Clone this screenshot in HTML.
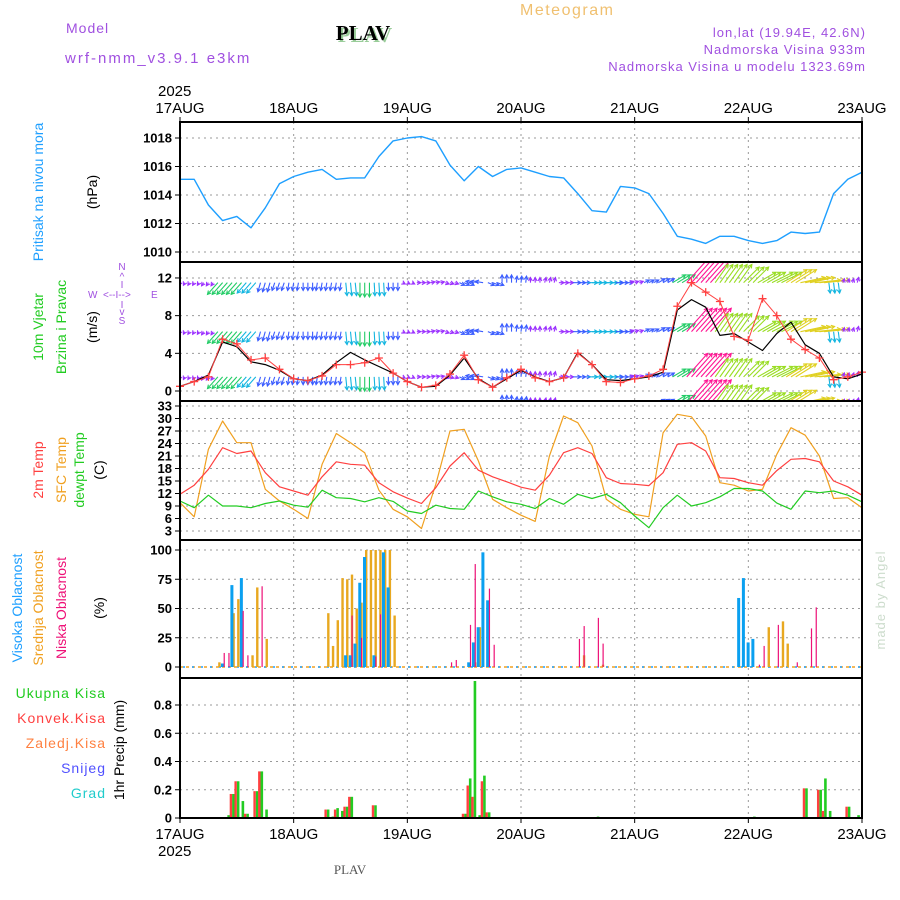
<!DOCTYPE html>
<html><head><meta charset="utf-8"><title>Meteogram PLAV</title>
<style>
html,body{margin:0;padding:0;background:#fff;}
svg{display:block;font-family:"Liberation Sans",sans-serif;}
.tk{font-size:13px;font-weight:bold;fill:#000;}
.ax{font-size:15px;fill:#000;}
</style></head>
<body>
<svg id="chart" width="900" height="900" viewBox="0 0 900 900" xmlns="http://www.w3.org/2000/svg">
<defs>
<clipPath id="clipW"><rect x="180" y="262" width="682" height="139"/></clipPath>
</defs>
<!-- header -->
<text x="520" y="15" font-size="16" fill="#f0c070" letter-spacing="1.5">Meteogram</text>
<text x="66" y="33" font-size="14" fill="#a050e0" letter-spacing="1">Model</text>
<text x="65" y="63" font-size="15" fill="#a050e0" letter-spacing="2">wrf-nmm_v3.9.1 e3km</text>
<text x="365" y="42" font-size="21" font-weight="bold" font-family="Liberation Serif,serif" fill="#9c9" text-anchor="middle">PLAV</text>
<text x="363" y="40" font-size="21" font-weight="bold" font-family="Liberation Serif,serif" fill="#000" text-anchor="middle">PLAV</text>
<text x="866" y="37" font-size="13" fill="#a050e0" text-anchor="end" letter-spacing="1">lon,lat (19.94E, 42.6N)</text>
<text x="866" y="54" font-size="13" fill="#a050e0" text-anchor="end" letter-spacing="1">Nadmorska Visina 933m</text>
<text x="866" y="71" font-size="13" fill="#a050e0" text-anchor="end" letter-spacing="1">Nadmorska Visina u modelu 1323.69m</text>

<!-- left labels -->
<text transform="translate(43,192) rotate(-90)" font-size="14" fill="#1e9fff" text-anchor="middle">Pritisak na nivou mora</text>
<text transform="translate(97,192) rotate(-90)" font-size="14" fill="#000" text-anchor="middle">(hPa)</text>
<text transform="translate(43,327) rotate(-90)" font-size="14" fill="#22cc22" text-anchor="middle">10m Vjetar</text>
<text transform="translate(66,327) rotate(-90)" font-size="14" fill="#22cc22" text-anchor="middle">Brzina i Pravac</text>
<text transform="translate(97,327) rotate(-90)" font-size="14" fill="#000" text-anchor="middle">(m/s)</text>
<g fill="#a050e0" font-size="10">
<text x="122" y="270" text-anchor="middle">N</text>
<text x="122" y="280" text-anchor="middle">^</text>
<text x="122" y="288" text-anchor="middle">I</text>
<text x="88" y="298">W</text>
<text x="103" y="298">&lt;--I--&gt;</text>
<text x="151" y="298">E</text>
<text x="122" y="308" text-anchor="middle">I</text>
<text x="122" y="315" text-anchor="middle">v</text>
<text x="122" y="324" text-anchor="middle">S</text>
</g>
<text transform="translate(43,470) rotate(-90)" font-size="14" fill="#ff4040" text-anchor="middle">2m Temp</text>
<text transform="translate(66,470) rotate(-90)" font-size="14" fill="#f0a020" text-anchor="middle">SFC Temp</text>
<text transform="translate(84,470) rotate(-90)" font-size="14" fill="#22cc22" text-anchor="middle">dewpt Temp</text>
<text transform="translate(104,470) rotate(-90)" font-size="14" fill="#000" text-anchor="middle">(C)</text>
<text transform="translate(22,608) rotate(-90)" font-size="14" fill="#1e9fff" text-anchor="middle">Visoka Oblacnost</text>
<text transform="translate(43,608) rotate(-90)" font-size="14" fill="#f0a020" text-anchor="middle">Srednja Oblacnost</text>
<text transform="translate(66,608) rotate(-90)" font-size="14" fill="#ee1177" text-anchor="middle">Niska Oblacnost</text>
<text transform="translate(104,608) rotate(-90)" font-size="14" fill="#000" text-anchor="middle">(%)</text>
<g font-size="14" text-anchor="end" letter-spacing="1">
<text x="106" y="698" fill="#22cc22">Ukupna Kisa</text>
<text x="106" y="723" fill="#ff4040">Konvek.Kisa</text>
<text x="106" y="748" fill="#ff8040">Zaledj.Kisa</text>
<text x="106" y="773" fill="#5050ff">Snijeg</text>
<text x="106" y="798" fill="#20cccc">Grad</text>
</g>
<text transform="translate(124,750) rotate(-90)" font-size="14" fill="#000" text-anchor="middle">1hr Precip (mm)</text>
<text transform="translate(885,600) rotate(-90)" font-size="13" fill="#ccdccc" text-anchor="middle" letter-spacing="1">made by Angel</text>
<text x="350" y="874" font-size="13" font-family="Liberation Serif,serif" fill="#555" text-anchor="middle">PLAV</text>

<g id="grid"></g>
<g id="marks"></g>
<g id="frames"></g>
</svg>
<script>
const NS='http://www.w3.org/2000/svg';
// ---- data (3-hourly from 17AUG 00z) ----
const dayLabels=['17AUG','18AUG','19AUG','20AUG','21AUG','22AUG','23AUG'];
const pressure=[1015.1,1015.1,1013.3,1012.2,1012.5,1011.7,1013.1,1014.8,1015.3,1015.6,1015.8,1015.1,1015.2,1015.2,1016.7,1017.8,1018.0,1018.1,1017.8,1016.1,1015.0,1016.0,1015.3,1015.8,1015.9,1015.6,1015.3,1015.2,1014.1,1012.9,1012.8,1014.6,1014.5,1014.1,1012.7,1011.1,1010.9,1010.6,1011.1,1011.1,1010.8,1010.6,1010.8,1011.4,1011.3,1011.4,1014.1,1015.1,1015.6];
const windSpeed=[0.5,1.0,1.7,5.2,4.7,3.1,2.8,2.2,1.3,1.1,1.7,3.0,4.1,3.3,2.6,1.9,1.0,0.4,0.5,1.7,3.5,1.3,0.4,1.3,2.2,1.5,1.0,1.4,4.1,2.8,1.2,1.1,1.3,1.5,2.0,8.6,9.7,8.9,5.9,6.1,5.2,4.3,6.1,7.3,4.9,4.0,1.5,1.3,1.8];
const windGustLine=[0.5,1.0,1.5,5.5,5.0,3.3,3.5,2.3,1.3,1.1,1.6,2.8,2.8,3.0,3.5,1.9,1.0,0.4,0.6,1.8,3.8,1.2,0.4,1.4,2.3,1.4,1.0,1.4,4.0,2.8,1.0,0.9,1.3,1.6,2.3,9.0,11.5,10.5,9.5,5.8,5.4,9.8,8.0,5.5,4.4,3.5,1.2,1.5,2.0];
const windU=[-0.5,-0.6,-0.8,-4,-4,-3.5,-1,-1,-0.5,0,-0.5,-0.5,0.5,0,0.3,0,1,1.5,1.5,1.5,2,-3,2.5,0,0.3,0,0.5,2,3,4,4.5,3,1.5,2,2.5,5,8,8,5,5,6,7,8,8,9.5,10,0.5,0.5,0.5];
const windV=[-1,-1,-1.2,-4.5,-4.5,-4,-3.5,-3,-3,-3,-3,-3,-5,-5.5,-5,-3,-0.5,0,0.3,-0.5,-1,0.5,-1,3,2.5,2,2,0,0,0,0,0,0.5,1,1.5,3,9,9,7,7,6,4,4,5,2,1,-4,1.5,2];
const rowLevels=[11.5,6.3,1.5,-1.3];
const temp2m=[11.8,14.0,17.8,23.0,21.6,22.2,17.0,13.6,12.6,11.6,16.0,19.6,19.0,18.8,14.6,12.4,10.9,9.6,13.4,18.6,21.8,17.6,16.0,14.8,13.5,12.8,16.4,21.8,23.0,21.6,15.8,14.4,14.2,13.9,17.0,23.8,24.2,22.2,15.8,15.6,14.6,14.0,17.5,20.2,20.4,19.6,15.0,13.6,11.6];
const tempSfc=[9.8,6.4,22.6,29.4,24.2,24.2,13.0,10.2,8.2,6.0,19.0,26.4,24.2,21.8,12.8,8.2,6.4,3.6,14.2,27.0,27.4,19.8,10.6,8.6,6.8,5.3,21.0,30.6,29.0,23.4,10.6,8.2,7.0,6.4,26.6,31.0,30.4,25.8,14.6,14.0,12.6,13.0,21.4,27.8,26.0,21.0,10.8,11.0,8.6];
const dewpt=[10.2,8.6,11.6,9.0,9.0,8.6,9.6,10.2,9.2,8.7,12.8,11.0,10.8,10.0,11.0,10.1,7.8,7.2,9.2,8.4,8.2,12.6,11.2,10.0,9.4,8.4,10.8,9.4,11.8,10.8,11.8,9.8,6.6,3.8,8.6,11.6,9.0,9.8,11.2,13.2,13.2,12.6,9.7,8.2,12.6,12.2,12.6,11.6,10.0];
// cloud cover (hour, %)
const highHours=[9,11,13,35,36,37,38,39,41,43,44,61,62,63,64,65,118,119,120,121];
const highVals=[3,70,76,10,10,20,72,94,10,98,68,4,21,34,98,57,59,76,21,24];
const midHours=[8,11,12,15,16,18,31,32,33,34,35,36,37,38,39,40,41,42,43,44,45,62,63,85,89,124,127,128];
const midVals=[4,46,58,10,68,24,46,18,40,76,75,79,50,55,100,100,100,100,100,100,44,4,34,10,2,34,39,20];
const lowHours=[9,10,13,14,17,36,38,41,42,57,58,61,62,65,66,84,85,88,89,122,123,126,130,133,134];
const lowVals=[12,12,48,10,69,44,25,9,45,4,6,36,88,67,19,24,35,42,20,2,18,36,4,33,51];
// precipitation (hour, mm)
const precipHours=[10,11,12,13,14,16,17,18,31,32,33,34,35,36,41,60,61,62,63,64,65,88,121,132,135,136,137,141,143];
const totalPrecip=[0.02,0.17,0.26,0.12,0.03,0.19,0.33,0.06,0.06,0.01,0.07,0.05,0.08,0.15,0.09,0.03,0.28,0.97,0.02,0.30,0.04,0.01,0.01,0.21,0.20,0.28,0.05,0.08,0.02];
const convPrecip=[0,0.17,0.26,0,0.03,0.19,0.33,0,0.06,0,0.06,0,0.08,0.15,0.09,0.03,0.23,0.15,0,0.26,0.04,0,0,0.21,0.20,0.05,0,0.08,0];
const pressTicks=[1010,1012,1014,1016,1018];
const windTicks=[0,4,8,12];
const tempTicks=[3,6,9,12,15,18,21,24,27,30,33];
const cloudTicks=[0,25,50,75,100];
const precipTicks=[0,0.2,0.4,0.6,0.8];

// ---- scales ----
const X0=180,X1=862;
const xH=h=>X0+h*(X1-X0)/144;
const yP=p=>252-(p-1010)*14.25;
const yW=s=>391-s*9.42;
const yT=t=>531-(t-3)*4.1667;
const yC=c=>667-c*1.17;
const yR=v=>818-v*141.25;
const panels=[[122,262],[262,401],[401,540],[540,678],[678,818]];

const grid=document.getElementById('grid');
const marks=document.getElementById('marks');
const frames=document.getElementById('frames');
function mk(tag,attrs,parent){const e=document.createElementNS(NS,tag);for(const k in attrs)e.setAttribute(k,attrs[k]);parent.appendChild(e);return e;}

dayLabels.forEach((d,i)=>{
  const x=xH(i*24);
  const g=mk('line',{x1:x,x2:x,y1:122,y2:818,stroke:'#999','stroke-dasharray':'2,4','stroke-width':1},grid);
  
  
  const t=mk('text',{x:x,y:113,class:'ax','text-anchor':'middle'},grid);t.textContent=d;
  
  
  const b=mk('text',{x:x,y:839,class:'ax','text-anchor':'middle'},grid);b.textContent=d;
  
  
  mk('line',{x1:x,x2:x,y1:117,y2:122,stroke:'#000'},grid);
  mk('line',{x1:x,x2:x,y1:818,y2:823,stroke:'#000'},grid);
});
[[158,96],[158,856]].forEach(p=>{const t=mk('text',{x:p[0],y:p[1],class:'ax'},grid);t.textContent='2025';
  
  });

function yTicks(ticks,fy,fmt,name){
  ticks.forEach(v=>{
    const y=fy(v);
    mk('line',{x1:X0,x2:X1,y1:y,y2:y,stroke:'#999','stroke-dasharray':'2,4'},grid);
    mk('line',{x1:X0-5,x2:X0,y1:y,y2:y,stroke:'#000'},grid);
    const t=mk('text',{x:X0-8,y:y+4.5,class:'tk','text-anchor':'end'},grid);t.textContent=fmt(v);
    
    
  });
}
yTicks(pressTicks,yP,v=>v,'pressure-tick');
yTicks(windTicks,yW,v=>v,'wind-tick');
yTicks(tempTicks,yT,v=>v,'temp-tick');
yTicks(cloudTicks,yC,v=>v,'cloud-tick');
yTicks(precipTicks,yR,v=>v===0?'0':v.toFixed(1),'precip-tick');

function line(arr,fy,color,name,w){
  const pts=arr.map((v,i)=>xH(i*3).toFixed(1)+','+fy(v).toFixed(1)).join(' ');
  const l=mk('polyline',{points:pts,fill:'none',stroke:color,'stroke-width':w||1.3,'stroke-linejoin':'round'},marks);
  
  
  return l;
}
line(pressure,yP,'#1e9fff','pressure-line',1.4);

// wind arrows (each 3-hourly value drawn as a small fan of arrows across its 3h slot)
const wg=mk('g',{'clip-path':'url(#clipW)'},marks);


function windColor(s){
  if(s<2.2)return '#9b30ff';
  if(s<4)return '#3a5cff';
  if(s<5.5)return '#12b5e0';
  if(s<7)return '#22cc66';
  if(s<9)return '#99dd22';
  if(s<10.5)return '#e0d020';
  if(s<11.5)return '#f0a030';
  return '#ff1493';
}
rowLevels.forEach(lv=>{
  const by=yW(lv);
  windU.forEach((u,i)=>{
    const v=windV[i];const s=Math.hypot(u,v);
    const c=windColor(s);
    [-1,0,1].forEach(o=>{
      const x=xH(i*3+o);
      if(x<X0-1||x>X1+1)return;
      const ex=x+u*2.6, ey=by-v*2.6;
      const a=mk('line',{x1:x,y1:by,x2:ex,y2:ey,stroke:c,'stroke-width':1.1},wg);
      
      
      if(s>0.1){
        const ang=Math.atan2(ey-by,ex-x);const hl=4;
        const p1=[ex-hl*Math.cos(ang-0.5),ey-hl*Math.sin(ang-0.5)];
        const p2=[ex-hl*Math.cos(ang+0.5),ey-hl*Math.sin(ang+0.5)];
        mk('polyline',{points:p1.join(',')+' '+ex+','+ey+' '+p2.join(','),fill:'none',stroke:c,'stroke-width':1.1},wg);
      }
    });
  });
});
line(windSpeed,yW,'#000','wind-speed-line',1.2);
line(windGustLine,yW,'#ff4040','wind-10m-line',1);
windGustLine.forEach((v,i)=>{
  const x=xH(i*3),y=yW(v);
  const p=mk('path',{d:`M${x-4},${y}H${x+4}M${x},${y-4}V${y+4}`,stroke:'#ff4040','stroke-width':1.3},marks);
  
  
});

line(tempSfc,yT,'#f0a020','sfc-temp-line',1.2);
line(temp2m,yT,'#ff4040','temp-2m-line',1.2);
line(dewpt,yT,'#22cc22','dewpt-line',1.2);

mk('line',{x1:X0,x2:X1,y1:yC(0),y2:yC(0),stroke:'#f0a020','stroke-dasharray':'3,3','stroke-width':1.5},marks);
mk('line',{x1:X0+3,x2:X1,y1:yC(0),y2:yC(0),stroke:'#1e9fff','stroke-dasharray':'2,7','stroke-width':1.5},marks);
function bars(hours,vals,fy,color,off,w,name){
  hours.forEach((h,i)=>{
    const y=fy(vals[i]);
    const r=mk('rect',{x:xH(h)+off,y:y,width:w,height:fy(0)-y,fill:color},marks);
    
    
  });
}
bars(midHours,midVals,yC,'#e8a820',0.3,2.4,'mid-cloud-bar');
bars(highHours,highVals,yC,'#0aa0f0',-1.7,3,'high-cloud-bar');
bars(lowHours,lowVals,yC,'#ee1177',1,1.2,'low-cloud-bar');
bars(precipHours,totalPrecip,yR,'#22cc22',0,2.6,'total-precip-bar');
bars(precipHours,convPrecip,yR,'#ff4040',-2.4,2.4,'convective-precip-bar');

panels.forEach((p,i)=>{
  const r=mk('rect',{x:X0,y:p[0],width:X1-X0,height:p[1]-p[0],fill:'none',stroke:'#000','stroke-width':2},frames);
  
  
});
</script>
</body></html>
